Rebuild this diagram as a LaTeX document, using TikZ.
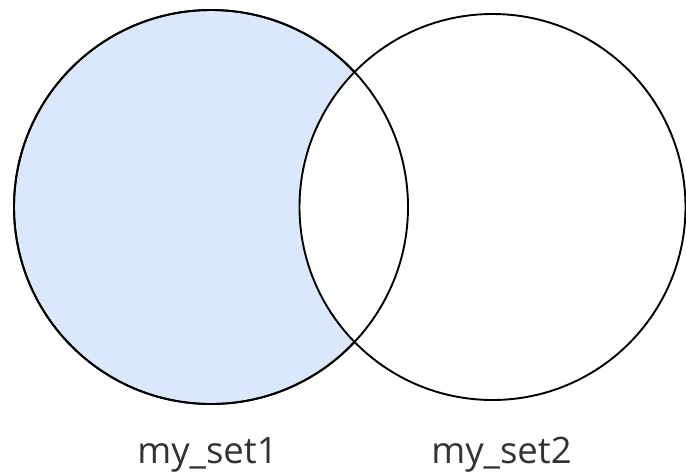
\documentclass[tikz,border=0pt]{standalone}
\usepackage{fontspec}
\setmainfont{Open Sans}
\definecolor{setfill}{HTML}{DAE8FC}
\definecolor{labelc}{HTML}{333333}
\begin{document}
\begin{tikzpicture}[x=1pt,y=-1pt,
  setcirc/.style={circle,inner sep=0pt,line width=1.9pt,draw=black},
  setlabel/.style={text=labelc,font=\fontsize{36.5}{42}\selectfont,inner sep=0pt}]
\useasboundingbox (0,0) rectangle (686,475);
\node[setcirc,fill=setfill,minimum size=394pt] (s1) at (211,207) {};
\node[setcirc,fill=white,minimum size=386pt] (s2) at (492.5,207) {};
\node[setcirc,minimum size=394pt] (s1o) at (211,207) {};
\node[setlabel] (l1) at (207.5,455) {my\_set1};
\node[setlabel] (l2) at (501.5,455) {my\_set2};
\end{tikzpicture}
\end{document}
